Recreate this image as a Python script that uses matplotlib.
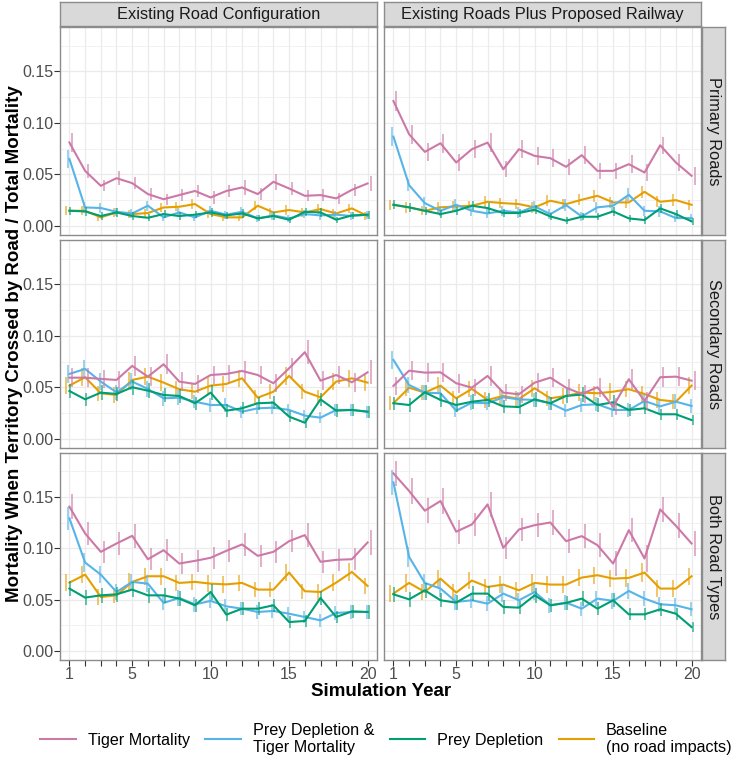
import matplotlib
matplotlib.use("Agg")
import matplotlib.pyplot as plt
from matplotlib.lines import Line2D
from matplotlib.ticker import FixedLocator

plt.rcParams["font.family"] = ["Liberation Sans", "DejaVu Sans"]

years = list(range(1, 21))
col_labels = ["Existing Road Configuration", "Existing Roads Plus Proposed Railway"]
row_labels = ["Primary Roads", "Secondary Roads", "Both Road Types"]
series_names = ["Tiger Mortality", "Prey Depletion &\nTiger Mortality",
                "Prey Depletion", "Baseline\n(no road impacts)"]
colors = ["#CC79A7", "#56B4E9", "#009E73", "#E69F00"]
x_tick_labels = ["1", "", "", "", "5", "", "", "", "", "10", "", "", "", "", "15",
                 "", "", "", "", "20"]
y_ticks = [0.00, 0.05, 0.10, 0.15]
y_tick_labels = ["0.00", "0.05", "0.10", "0.15"]

# ---- Primary roads, existing configuration ----
pe_tiger = [0.081, 0.0535, 0.039, 0.0464, 0.0416, 0.031, 0.026, 0.030, 0.034, 0.0277,
            0.034, 0.0374, 0.031, 0.0429, 0.0364, 0.0293, 0.030, 0.0268, 0.0351, 0.0413]
pe_both = [0.065, 0.018, 0.0175, 0.0138, 0.0122, 0.0197, 0.0084, 0.0132, 0.0084, 0.0148,
           0.011, 0.0138, 0.0074, 0.0103, 0.0074, 0.0116, 0.0103, 0.011, 0.0097, 0.011]
pe_prey = [0.0148, 0.0142, 0.0097, 0.0132, 0.0097, 0.008, 0.0116, 0.0097, 0.011, 0.0132,
           0.0103, 0.0122, 0.0074, 0.0097, 0.0061, 0.0138, 0.0132, 0.0061, 0.0103, 0.011]
pe_base = [0.0148, 0.0148, 0.0084, 0.0132, 0.0116, 0.0126, 0.018, 0.0187, 0.0213, 0.0116,
           0.0084, 0.0084, 0.0197, 0.0132, 0.0155, 0.0132, 0.0164, 0.0122, 0.0171, 0.0097]
pe_tiger_err = [0.009, 0.007, 0.0055, 0.007, 0.006, 0.006, 0.0055, 0.006, 0.006, 0.006,
                0.0055, 0.007, 0.006, 0.0075, 0.006, 0.0055, 0.006, 0.0055, 0.006, 0.0075]
pe_both_err = [0.009, 0.005, 0.0045, 0.004, 0.004, 0.005, 0.004, 0.004, 0.0035, 0.0045,
               0.004, 0.0045, 0.0035, 0.004, 0.0035, 0.004, 0.004, 0.004, 0.004, 0.004]
pe_prey_err = [0.004, 0.004, 0.0035, 0.004, 0.0035, 0.0035, 0.004, 0.0035, 0.0035, 0.004,
               0.0035, 0.004, 0.003, 0.0035, 0.003, 0.004, 0.004, 0.003, 0.0035, 0.004]
pe_base_err = [0.0045, 0.0045, 0.0035, 0.004, 0.004, 0.004, 0.0045, 0.0045, 0.005, 0.004,
               0.0035, 0.0035, 0.0045, 0.004, 0.0045, 0.004, 0.0045, 0.004, 0.0045, 0.004]

# ---- Primary roads, with railway ----
pr_tiger = [0.1212, 0.089, 0.0719, 0.0803, 0.0616, 0.0745, 0.0809, 0.0551, 0.0745, 0.068,
            0.0658, 0.0574, 0.0687, 0.0535, 0.0535, 0.060, 0.0519, 0.0783, 0.0616, 0.0487]
pr_both = [0.0867, 0.0396, 0.0222, 0.0148, 0.0206, 0.0148, 0.0122, 0.0148, 0.0132, 0.019,
           0.0116, 0.0203, 0.0093, 0.0181, 0.0197, 0.0303, 0.0148, 0.0142, 0.0077, 0.0077]
pr_prey = [0.0206, 0.0181, 0.0148, 0.0116, 0.0148, 0.0197, 0.0174, 0.0126, 0.0126, 0.0158,
           0.0093, 0.0052, 0.009, 0.009, 0.0142, 0.0074, 0.0058, 0.0171, 0.0116, 0.0045]
pr_base = [0.0206, 0.0181, 0.0148, 0.0181, 0.019, 0.0197, 0.0235, 0.0222, 0.0213, 0.0181,
           0.0245, 0.0213, 0.0255, 0.0293, 0.0229, 0.0229, 0.0332, 0.0235, 0.0251, 0.0206]
pr_tiger_err = [0.010, 0.009, 0.0085, 0.009, 0.008, 0.0085, 0.009, 0.008, 0.0085, 0.0085,
                0.0085, 0.008, 0.0085, 0.008, 0.008, 0.0085, 0.008, 0.0085, 0.008, 0.0085]
pr_both_err = [0.009, 0.006, 0.0055, 0.005, 0.0055, 0.005, 0.0045, 0.005, 0.005, 0.0055,
               0.0045, 0.0055, 0.004, 0.0055, 0.0055, 0.0065, 0.005, 0.005, 0.004, 0.004]
pr_prey_err = [0.0045, 0.0045, 0.004, 0.004, 0.004, 0.0045, 0.0045, 0.004, 0.004, 0.0045,
               0.0035, 0.0035, 0.0035, 0.0035, 0.004, 0.0035, 0.0035, 0.0045, 0.004, 0.0035]
pr_base_err = [0.005, 0.005, 0.0045, 0.005, 0.005, 0.005, 0.0055, 0.005, 0.005, 0.005,
               0.0055, 0.005, 0.0055, 0.006, 0.0055, 0.0055, 0.006, 0.0055, 0.0055, 0.005]

# ---- Secondary roads, existing configuration ----
se_tiger = [0.0595, 0.0595, 0.0583, 0.0573, 0.0709, 0.0605, 0.0725, 0.0557, 0.0534, 0.0621,
            0.0631, 0.066, 0.0621, 0.0541, 0.0686, 0.0842, 0.0566, 0.0621, 0.055, 0.0647]
se_both = [0.0631, 0.068, 0.0557, 0.0453, 0.0557, 0.0486, 0.0395, 0.0401, 0.0362, 0.033,
           0.033, 0.0265, 0.0298, 0.0304, 0.0282, 0.0227, 0.0207, 0.0282, 0.0282, 0.0265]
se_prey = [0.0466, 0.0385, 0.045, 0.0437, 0.0502, 0.0469, 0.0427, 0.0418, 0.0347, 0.045,
           0.0275, 0.0298, 0.0347, 0.0353, 0.0217, 0.0158, 0.0385, 0.0275, 0.0282, 0.0265]
se_base = [0.0518, 0.0599, 0.0444, 0.0427, 0.0573, 0.0605, 0.0547, 0.0483, 0.0459, 0.0518,
           0.0534, 0.0589, 0.0401, 0.0459, 0.0612, 0.0459, 0.0405, 0.0557, 0.0589, 0.0547]
se_tiger_err = [0.0095, 0.009, 0.009, 0.0085, 0.0095, 0.009, 0.0095, 0.009, 0.0085, 0.009,
                0.009, 0.0095, 0.009, 0.0085, 0.0095, 0.0115, 0.009, 0.009, 0.009, 0.0115]
se_both_err = [0.009, 0.0085, 0.008, 0.007, 0.008, 0.0075, 0.007, 0.007, 0.0065, 0.0065,
               0.0065, 0.006, 0.006, 0.006, 0.006, 0.0055, 0.0055, 0.006, 0.006, 0.006]
se_prey_err = [0.007, 0.0065, 0.007, 0.007, 0.0075, 0.007, 0.007, 0.007, 0.0065, 0.007,
               0.006, 0.006, 0.0065, 0.0065, 0.0055, 0.005, 0.0065, 0.006, 0.006, 0.006]
se_base_err = [0.008, 0.0085, 0.0075, 0.0075, 0.008, 0.0085, 0.008, 0.0075, 0.0075, 0.008,
               0.008, 0.0085, 0.007, 0.0075, 0.0085, 0.0075, 0.007, 0.008, 0.0085, 0.008]

# ---- Secondary roads, with railway ----
sr_tiger = [0.0515, 0.0663, 0.0644, 0.0647, 0.0541, 0.0498, 0.0612, 0.045, 0.0434, 0.0547,
            0.0595, 0.0498, 0.0437, 0.0502, 0.0314, 0.058, 0.0369, 0.0599, 0.0605, 0.0566]
sr_both = [0.0767, 0.0524, 0.045, 0.0444, 0.0275, 0.0353, 0.0347, 0.0405, 0.0385, 0.0379,
           0.0347, 0.0275, 0.033, 0.0337, 0.0282, 0.0282, 0.0369, 0.0317, 0.0362, 0.0321]
sr_prey = [0.0347, 0.033, 0.0453, 0.0379, 0.033, 0.0362, 0.0379, 0.0317, 0.031, 0.0385,
           0.0347, 0.0418, 0.0431, 0.033, 0.0356, 0.0282, 0.0298, 0.024, 0.024, 0.0184]
sr_base = [0.0347, 0.0498, 0.045, 0.0518, 0.0395, 0.0486, 0.0379, 0.0418, 0.0388, 0.0492,
           0.0395, 0.0418, 0.045, 0.0444, 0.0459, 0.0483, 0.0437, 0.0379, 0.0362, 0.0518]
sr_tiger_err = [0.009, 0.0095, 0.0095, 0.0095, 0.009, 0.0085, 0.0095, 0.0085, 0.0085, 0.009,
                0.0095, 0.0085, 0.0085, 0.009, 0.008, 0.0095, 0.0085, 0.0095, 0.0095, 0.0095]
sr_both_err = [0.009, 0.008, 0.0075, 0.0075, 0.0065, 0.007, 0.007, 0.0075, 0.007, 0.007,
               0.007, 0.0065, 0.0065, 0.007, 0.0065, 0.0065, 0.007, 0.0065, 0.007, 0.0065]
sr_prey_err = [0.0065, 0.0065, 0.0075, 0.007, 0.0065, 0.007, 0.007, 0.0065, 0.0065, 0.007,
               0.0065, 0.007, 0.0075, 0.0065, 0.007, 0.006, 0.006, 0.0055, 0.0055, 0.005]
sr_base_err = [0.007, 0.008, 0.0075, 0.008, 0.0075, 0.008, 0.0075, 0.0075, 0.0075, 0.008,
               0.0075, 0.0075, 0.008, 0.0075, 0.008, 0.008, 0.0075, 0.0075, 0.0075, 0.008]

# ---- Both road types, existing configuration ----
be_tiger = [0.1407, 0.1146, 0.0967, 0.1048, 0.1123, 0.0895, 0.0983, 0.0853, 0.0879, 0.0909,
            0.0977, 0.1039, 0.0928, 0.0967, 0.1071, 0.113, 0.087, 0.0889, 0.0895, 0.1058]
be_both = [0.1293, 0.0863, 0.0745, 0.0576, 0.0674, 0.0657, 0.0469, 0.0518, 0.0455, 0.0489,
           0.0436, 0.0413, 0.0381, 0.0391, 0.0364, 0.0332, 0.0299, 0.0371, 0.0381, 0.0381]
be_prey = [0.0609, 0.0521, 0.0543, 0.0553, 0.0599, 0.0543, 0.0543, 0.0511, 0.0446, 0.0576,
           0.0355, 0.0413, 0.0413, 0.0446, 0.0283, 0.0293, 0.0518, 0.0332, 0.0387, 0.0381]
be_base = [0.0667, 0.0745, 0.0527, 0.0543, 0.0674, 0.0729, 0.0729, 0.0664, 0.0674, 0.0657,
           0.065, 0.0664, 0.0599, 0.0599, 0.0765, 0.0583, 0.0576, 0.0667, 0.0771, 0.0635]
be_tiger_err = [0.012, 0.011, 0.0105, 0.011, 0.0115, 0.0105, 0.011, 0.0105, 0.0105, 0.0105,
                0.011, 0.0115, 0.0105, 0.011, 0.011, 0.0115, 0.0105, 0.0105, 0.0105, 0.0125]
be_both_err = [0.011, 0.009, 0.0085, 0.0075, 0.008, 0.008, 0.007, 0.0075, 0.007, 0.007,
               0.007, 0.0065, 0.0065, 0.0065, 0.0065, 0.006, 0.006, 0.0065, 0.0065, 0.0065]
be_prey_err = [0.0075, 0.007, 0.007, 0.007, 0.0075, 0.007, 0.007, 0.007, 0.0065, 0.0075,
               0.006, 0.0065, 0.0065, 0.0065, 0.0055, 0.0055, 0.007, 0.006, 0.0065, 0.0065]
be_base_err = [0.0085, 0.0085, 0.0075, 0.0075, 0.0085, 0.0085, 0.0085, 0.008, 0.008, 0.008,
               0.008, 0.008, 0.0075, 0.0075, 0.0085, 0.0075, 0.0075, 0.008, 0.0085, 0.008]

# ---- Both road types, with railway ----
br_tiger = [0.1732, 0.156, 0.1368, 0.1462, 0.1163, 0.1234, 0.1429, 0.1006, 0.1185, 0.1227,
            0.1253, 0.1071, 0.112, 0.1032, 0.0853, 0.1178, 0.0902, 0.138, 0.1221, 0.1048]
br_both = [0.1644, 0.0918, 0.0664, 0.0609, 0.0479, 0.0495, 0.0462, 0.056, 0.0495, 0.0576,
           0.0446, 0.0472, 0.0413, 0.0511, 0.0489, 0.0586, 0.0511, 0.0456, 0.0446, 0.0407]
br_prey = [0.0553, 0.0504, 0.0592, 0.0495, 0.0472, 0.056, 0.056, 0.043, 0.0423, 0.0543,
           0.0446, 0.0469, 0.0511, 0.0413, 0.0495, 0.0358, 0.0358, 0.0407, 0.0364, 0.0234]
br_base = [0.056, 0.0664, 0.0576, 0.0706, 0.057, 0.0687, 0.0625, 0.0648, 0.0592, 0.0664,
           0.0648, 0.0648, 0.0716, 0.0739, 0.0706, 0.0713, 0.0765, 0.0609, 0.0609, 0.0729]
br_tiger_err = [0.012, 0.0125, 0.012, 0.0125, 0.0115, 0.0115, 0.0125, 0.011, 0.0115, 0.012,
                0.012, 0.0115, 0.0115, 0.0115, 0.0125, 0.012, 0.0135, 0.0125, 0.012, 0.0125]
br_both_err = [0.012, 0.0095, 0.0085, 0.008, 0.0075, 0.0075, 0.0075, 0.008, 0.0075, 0.008,
               0.0075, 0.0075, 0.007, 0.0075, 0.0075, 0.008, 0.0075, 0.0075, 0.0075, 0.007]
br_prey_err = [0.0075, 0.007, 0.0075, 0.007, 0.007, 0.0075, 0.0075, 0.0065, 0.0065, 0.0075,
               0.0065, 0.007, 0.007, 0.0065, 0.007, 0.006, 0.006, 0.0065, 0.006, 0.005]
br_base_err = [0.008, 0.0085, 0.008, 0.0085, 0.008, 0.0085, 0.008, 0.0085, 0.008, 0.0085,
               0.0085, 0.0085, 0.0085, 0.0085, 0.0085, 0.0085, 0.009, 0.008, 0.008, 0.0085]

panels = [
    [(pe_tiger, pe_both, pe_prey, pe_base), (pr_tiger, pr_both, pr_prey, pr_base)],
    [(se_tiger, se_both, se_prey, se_base), (sr_tiger, sr_both, sr_prey, sr_base)],
    [(be_tiger, be_both, be_prey, be_base), (br_tiger, br_both, br_prey, br_base)],
]
panel_errs = [
    [(pe_tiger_err, pe_both_err, pe_prey_err, pe_base_err),
     (pr_tiger_err, pr_both_err, pr_prey_err, pr_base_err)],
    [(se_tiger_err, se_both_err, se_prey_err, se_base_err),
     (sr_tiger_err, sr_both_err, sr_prey_err, sr_base_err)],
    [(be_tiger_err, be_both_err, be_prey_err, be_base_err),
     (br_tiger_err, br_both_err, br_prey_err, br_base_err)],
]

# ---------------- layout (pixels) ----------------
W, H = 733, 762
fig = plt.figure(figsize=(W / 100, H / 100), dpi=100)
col_x = [(60, 377), (384, 701)]
row_y = [(27, 235), (240, 448), (453, 660)]
dodge = [0.1875, -0.0625, 0.0625, -0.1875]   # tiger, both, prey, baseline
zorders = [5, 3, 4, 2]

grid_col = "#EBEBEB"
border_col = "#8C8C8C"
strip_fill = "#D9D9D9"
text_col = "#4D4D4D"


def fx(px):
    return px / W


def fy(py):
    return 1 - py / H


for r in range(3):
    for c in range(2):
        x0, x1 = col_x[c]
        y0, y1 = row_y[r]
        ax = fig.add_axes([fx(x0), fy(y1), fx(x1 - x0), (y1 - y0) / H])
        ax.set_xlim(0.4, 20.6)
        ax.set_ylim(-0.0087, 0.193)
        ax.set_facecolor("white")
        ax.xaxis.set_major_locator(FixedLocator(years))
        ax.yaxis.set_major_locator(FixedLocator(y_ticks))
        ax.yaxis.set_minor_locator(FixedLocator([0.025, 0.075, 0.125, 0.175]))
        ax.grid(which="major", color=grid_col, lw=0.9, zorder=0)
        ax.grid(which="minor", axis="y", color=grid_col, lw=0.5, zorder=0)
        ax.set_axisbelow(True)
        for sp in ax.spines.values():
            sp.set_color(border_col)
            sp.set_linewidth(1.0)
            sp.set_zorder(10)
        ax.tick_params(which="minor", length=0)
        ax.tick_params(which="major", length=4, width=0.8, color="#333333",
                       labelsize=11.5, labelcolor=text_col, pad=1)
        if c == 0:
            ax.set_yticklabels(y_tick_labels)
        else:
            ax.tick_params(axis="y", length=0, labelleft=False)
        if r == 2:
            ax.set_xticklabels(x_tick_labels)
        else:
            ax.tick_params(axis="x", length=0, labelbottom=False)

        data = panels[r][c]
        errs = panel_errs[r][c]
        for i in range(4):
            vals = data[i]
            ev = errs[i]
            ax.plot(years, vals, color=colors[i], lw=1.5, zorder=zorders[i],
                    solid_joinstyle="round")
            xd = [yv + dodge[i] for yv in years]
            lo = [v - e for v, e in zip(vals, ev)]
            hi = [v + e for v, e in zip(vals, ev)]
            ax.vlines(xd, lo, hi, color=colors[i], lw=1.1, alpha=0.75,
                      zorder=zorders[i])

# column strips
for c in range(2):
    x0, x1 = col_x[c]
    sax = fig.add_axes([fx(x0), fy(26), fx(x1 - x0), 24 / H])
    sax.set_facecolor(strip_fill)
    sax.set_xticks([])
    sax.set_yticks([])
    for sp in sax.spines.values():
        sp.set_color(border_col)
        sp.set_linewidth(1.0)
    sax.text(0.5, 0.48, col_labels[c], ha="center", va="center", fontsize=11.8,
             color="#1A1A1A", transform=sax.transAxes)

# row strips
for r in range(3):
    y0, y1 = row_y[r]
    sax = fig.add_axes([fx(702), fy(y1), fx(23), (y1 - y0) / H])
    sax.set_facecolor(strip_fill)
    sax.set_xticks([])
    sax.set_yticks([])
    for sp in sax.spines.values():
        sp.set_color(border_col)
        sp.set_linewidth(1.0)
    sax.text(0.5, 0.5, row_labels[r], ha="center", va="center", fontsize=11.8,
             color="#1A1A1A", rotation=-90, transform=sax.transAxes)

# axis titles
fig.text(fx(15), fy(344), "Mortality When Territory Crossed by Road / Total Mortality",
         rotation=90, ha="center", va="center", fontsize=13.5, fontweight="bold")
fig.text(fx(381), fy(692), "Simulation Year", ha="center", va="center",
         fontsize=13.5, fontweight="bold")

# legend
handles = [Line2D([], [], color=col, lw=1.5) for col in colors]
fig.legend(handles, series_names, loc="center", bbox_to_anchor=(fx(386), fy(739)),
           ncol=4, frameon=False, fontsize=11.6, handlelength=2.2, handletextpad=0.75,
           columnspacing=0.95, borderpad=0.2)

fig.savefig("out.png", dpi=100)
